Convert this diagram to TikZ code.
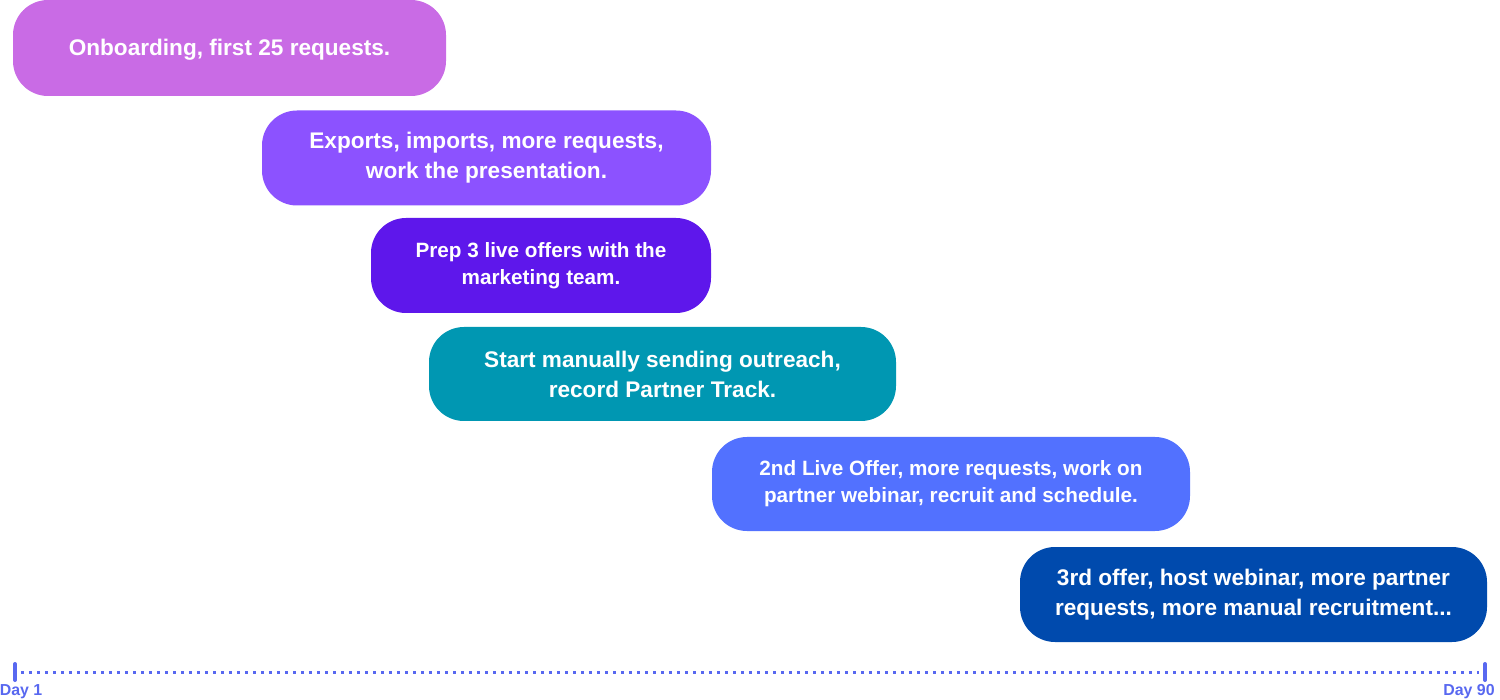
\documentclass[tikz,border=0pt]{standalone}
\usepackage{fontspec}
\setmainfont{Liberation Sans}
\definecolor{cA}{HTML}{C96BE5}
\definecolor{cB}{HTML}{8C52FF}
\definecolor{cC}{HTML}{5E17EB}
\definecolor{cD}{HTML}{0097B2}
\definecolor{cE}{HTML}{5271FF}
\definecolor{cF}{HTML}{004AAD}
\definecolor{axis}{HTML}{5868F0}
\begin{document}
\begin{tikzpicture}[x=1pt,y=-1pt,
  task/.style={rounded corners=35pt, inner sep=0pt, text=white, align=center,
    font=\bfseries\fontsize{22.6}{30}\selectfont},
  small/.style={font=\bfseries\fontsize{20.7}{27}\selectfont},
  daylab/.style={text=axis, font=\bfseries\fontsize{15.9}{17}\selectfont, inner sep=0pt}]
\useasboundingbox (0,0) rectangle (1500,700);
\node[task, fill=cA, minimum width=433pt, minimum height=96pt] (t1) at (229.5,48) {};
\node[text=white, font=\bfseries\fontsize{22.6}{30}\selectfont, inner sep=0pt] (t1l) at (229.5,49.5) {Onboarding, first 25 requests.};
\node[task, fill=cB, minimum width=449pt, minimum height=95pt] (t2) at (486.5,158) {Exports, imports, more requests,\\work the presentation.};
\node[task, small, fill=cC, minimum width=340pt, minimum height=95pt] (t3) at (541,265.5) {Prep 3 live offers with the\\marketing team.};
\node[task, fill=cD, minimum width=467pt, minimum height=94pt] (t4) at (662.5,374) {Start manually sending outreach,\\record Partner Track.};
\node[task, small, fill=cE, minimum width=478pt, minimum height=94pt] (t5) at (951,484) {2nd Live Offer, more requests, work on\\partner webinar, recruit and schedule.};
\node[task, fill=cF, minimum width=467pt, minimum height=95pt] (t6) at (1253.5,594.5) {3rd offer, host webinar, more partner\\requests, more manual recruitment...};
\coordinate (a0) at (15,672);
\coordinate (a1) at (1485,672);
\draw[axis, line width=3pt, dash pattern=on 3pt off 5pt] ([xshift=6pt]a0) -- ([xshift=-6pt]a1);
\draw[axis, line width=4pt, line cap=round] ([yshift=-8pt]a0) -- ([yshift=8pt]a0);
\draw[axis, line width=4pt, line cap=round] ([yshift=-8pt]a1) -- ([yshift=8pt]a1);
\node[daylab] (d1) at (21,691.5) {Day 1};
\node[daylab] (d90) at (1469,691.5) {Day 90};
\end{tikzpicture}
\end{document}
